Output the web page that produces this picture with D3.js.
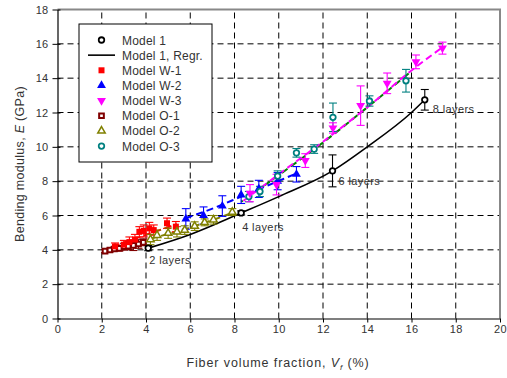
<!DOCTYPE html>
<html><head><meta charset="utf-8">
<script src="https://cdn.jsdelivr.net/npm/d3@7"></script>
<style>body{margin:0;background:#fff}svg{display:block;font-family:"Liberation Sans",Arial,sans-serif}</style>
</head><body><svg id="c" width="507" height="378"></svg>
<script>
// ---- data ----
const xTicks = [0,2,4,6,8,10,12,14,16,18,20];
const yTicks = [0,2,4,6,8,10,12,14,16,18];

const m1X = [4.1, 8.3, 12.43, 16.6];
const m1Y = [4.1, 6.15, 8.6, 12.74];
const m1Err = [0.15, 0.12, 0.93, 0.6];
const m1Labels = ["2 layers", "4 layers", "6 layers", "8 layers"];

const regX = [4.1, 6, 8.3, 10, 12.43, 14, 16, 16.6];
const regY = [4.1, 4.9, 6.15, 7.1, 8.6, 10.0, 12.0, 12.74];

const w1X = [2.6, 3.0, 3.25, 3.5, 3.7, 3.9, 4.15, 4.35, 4.95, 5.35];
const w1Y = [4.2, 4.3, 4.45, 4.6, 5.05, 5.1, 5.25, 5.15, 5.55, 5.35];
const w1Err = [0.2, 0.25, 0.3, 0.3, 0.3, 0.35, 0.35, 0.3, 0.3, 0.3];
const w1FitX = [2.5, 5.4];
const w1FitY = [4.2, 5.5];

const w2X = [5.8, 6.6, 7.45, 8.3, 9.1, 9.95, 10.8];
const w2Y = [5.8, 6.0, 6.55, 7.2, 7.55, 8.0, 8.4];
const w2Err = [0.6, 0.5, 0.6, 0.5, 0.5, 0.5, 0.45];
const w2FitX = [5.8, 7.0, 8.3, 9.5, 10.8];
const w2FitY = [5.85, 6.4, 7.1, 7.75, 8.45];

const w3X = [8.7, 9.9, 11.2, 12.45, 13.7, 14.9, 16.2, 17.4];
const w3Y = [7.3, 7.8, 9.2, 11.1, 12.4, 13.7, 14.95, 15.75];
const w3Err = [0.5, 0.6, 0.4, 0.3, 1.15, 0.6, 0.4, 0.35];
const w3FitX = [8.4, 10, 12, 14, 16, 17.4];
const w3FitY = [6.85, 8.4, 10.3, 12.3, 14.45, 15.8];

const o1X = [2.15, 2.37, 2.57, 2.8, 3.01, 3.2, 3.43, 3.66, 3.88];
const o1Y = [3.93, 3.99, 4.05, 4.09, 4.18, 4.22, 4.26, 4.34, 4.44];
const o1Err = [0.08, 0.1, 0.12, 0.15, 0.2, 0.2, 0.3, 0.25, 0.2];
const o1FitX = [2.1, 3.9];
const o1FitY = [3.9, 4.45];

const o2X = [4.2, 4.5, 5.0, 5.4, 5.75, 6.2, 6.65, 7.05, 7.9];
const o2Y = [4.6, 4.85, 4.97, 5.05, 5.15, 5.38, 5.6, 5.75, 6.2];
const o2Err = [0.3, 0.3, 0.3, 0.3, 0.25, 0.25, 0.2, 0.25, 0.2];
const o2FitX = [4.2, 6.0, 7.9];
const o2FitY = [4.65, 5.3, 6.15];

const o3X = [8.65, 9.15, 9.95, 10.8, 11.6, 12.45, 14.1, 15.75];
const o3Y = [7.1, 7.4, 8.3, 9.65, 9.87, 11.72, 12.67, 13.85];
const o3Err = [0.3, 0.3, 0.3, 0.25, 0.25, 0.83, 0.3, 0.66];
const o3FitX = [8.3, 10, 12, 14, 15.9];
const o3FitY = [6.8, 8.35, 10.25, 12.3, 14.3];

const legendNames = ["Model 1","Model 1, Regr.","Model W-1","Model W-2","Model W-3","Model O-1","Model O-2","Model O-3"];

// ---- scales ----
const svg = d3.select("#c");
const x = d3.scaleLinear().domain([0,20]).range([57.5,500]);
const y = d3.scaleLinear().domain([0,18]).range([318.5,9.5]);
const FONT = "Liberation Sans, Arial, sans-serif";

// grid
const g = svg.append("g");
g.selectAll(".vg").data(xTicks.filter(d=>d>0&&d<20)).join("line")
  .attr("x1",d=>x(d)).attr("x2",d=>x(d)).attr("y1",y(0)).attr("y2",y(18))
  .attr("stroke","#000").attr("stroke-width",1).attr("stroke-dasharray","6,4");
g.selectAll(".hg").data(yTicks.filter(d=>d>0&&d<18)).join("line")
  .attr("x1",x(0)).attr("x2",x(20)).attr("y1",d=>y(d)).attr("y2",d=>y(d))
  .attr("stroke","#000").attr("stroke-width",1).attr("stroke-dasharray","6,4");
svg.append("path").attr("d",`M${x(0)},${y(18)}H${x(20)}V${y(0)}`)
  .attr("fill","none").attr("stroke","#888").attr("stroke-width",2);

// axes
const xa = svg.append("g").attr("transform",`translate(0,${y(0)})`)
  .call(d3.axisBottom(x).tickValues(xTicks).tickSize(4).tickPadding(3).tickSizeOuter(0));
const ya = svg.append("g").attr("transform",`translate(${x(0)},0)`)
  .call(d3.axisLeft(y).tickValues(yTicks).tickSize(5).tickPadding(4).tickSizeOuter(0));
[xa,ya].forEach(a=>{
  a.select(".domain").attr("stroke","#000").attr("stroke-width",1.2);
  a.selectAll(".tick line").attr("stroke","#000");
  a.selectAll("text").attr("font-size",11).attr("fill","#333").attr("font-family",FONT)
   .attr("letter-spacing",0.3);
});
ya.selectAll(".tick line").attr("x2",-5).clone().attr("x2",3);

// axis titles
const xt = svg.append("text").attr("x",278).attr("y",367).attr("text-anchor","middle")
  .attr("font-size",12.5).attr("letter-spacing",0.9).attr("fill","#333");
xt.append("tspan").text("Fiber volume fraction, ");
xt.append("tspan").attr("font-style","italic").text("V");
xt.append("tspan").attr("font-style","italic").attr("font-size",8).attr("dy",3).text("f");
xt.append("tspan").attr("dy",-3).text(" (%)");
const yt = svg.append("text").attr("transform",`translate(24,${y(9)}) rotate(-90)`)
  .attr("text-anchor","middle").attr("font-size",12.5).attr("letter-spacing",0.3).attr("fill","#333");
yt.append("tspan").text("Bending modulus, ");
yt.append("tspan").attr("font-style","italic").text("E");
yt.append("tspan").text(" (GPa)");

// series definitions
const sym = {
  sq: d3.symbol().type(d3.symbolSquare).size(36)(),
  osq: d3.symbol().type(d3.symbolSquare).size(22)(),
  tri: d3.symbol().type(d3.symbolTriangle).size(34)(),
  otri: d3.symbol().type(d3.symbolTriangle).size(24)(),
  circ: d3.symbol().type(d3.symbolCircle).size(24)()
};
const series = [
  {xs:o1X, ys:o1Y, es:o1Err, fx:o1FitX, fy:o1FitY, color:"#800000", shape:"osq", fill:"#fff", sw:2, rot:0, line:"#800000"},
  {xs:w1X, ys:w1Y, es:w1Err, fx:w1FitX, fy:w1FitY, color:"#ff0000", shape:"sq", fill:"#ff0000", sw:0, rot:0, line:"#ff0000"},
  {xs:o2X, ys:o2Y, es:o2Err, fx:o2FitX, fy:o2FitY, color:"#808000", shape:"otri", fill:"#fff", sw:1.5, rot:0, line:"#808000"},
  {xs:w2X, ys:w2Y, es:w2Err, fx:w2FitX, fy:w2FitY, color:"#0000ff", shape:"tri", fill:"#0000ff", sw:0, rot:0, line:"#0000ff"},
  {xs:o3X, ys:o3Y, es:o3Err, fx:o3FitX, fy:o3FitY, color:"#008080", shape:"circ", fill:"#fff", sw:1.8, rot:0, line:"#008000", dashOff:5},
  {xs:w3X, ys:w3Y, es:w3Err, fx:w3FitX, fy:w3FitY, color:"#ff00ff", shape:"tri", fill:"#ff00ff", sw:0, rot:180, line:"#ff00ff"}
];

// trend lines
const fitLine = d3.line().x(d=>x(d[0])).y(d=>y(d[1])).curve(d3.curveMonotoneX);
series.forEach(s=>{
  const pts = s.fx.map((v,i)=>[v,s.fy[i]]);
  svg.append("path").attr("d",fitLine(pts)).attr("fill","none")
    .attr("stroke",s.line).attr("stroke-width",2).attr("stroke-dasharray","7,4")
    .attr("stroke-dashoffset",s.dashOff||0);
});
// regression
const regPts = regX.map((v,i)=>[v,regY[i]]);
svg.append("path").attr("d",fitLine(regPts))
  .attr("fill","none").attr("stroke","#000").attr("stroke-width",1.6);

function errBars(xs,ys,es,color){
  const gg = svg.append("g").attr("stroke",color).attr("stroke-width",1.1);
  xs.forEach((v,i)=>{
    const cx=x(v), t=y(ys[i]+es[i]), b=y(ys[i]-es[i]);
    gg.append("line").attr("x1",cx).attr("x2",cx).attr("y1",t).attr("y2",b);
    gg.append("line").attr("x1",cx-4).attr("x2",cx+4).attr("y1",t).attr("y2",t);
    gg.append("line").attr("x1",cx-4).attr("x2",cx+4).attr("y1",b).attr("y2",b);
  });
}
series.forEach(s=>errBars(s.xs,s.ys,s.es,s.color));
errBars(m1X,m1Y,m1Err,"#000");

function marker(sel, s){
  sel.attr("d",sym[s.shape]).attr("fill",s.fill)
    .attr("stroke",s.sw?s.color:"none").attr("stroke-width",s.sw);
}
series.forEach(s=>{
  s.xs.forEach((v,i)=>{
    svg.append("path").call(marker,s)
      .attr("transform",`translate(${x(v)},${y(s.ys[i])}) rotate(${s.rot})`);
  });
});
const m1s = {shape:"circ", fill:"#fff", color:"#000", sw:1.8};
m1X.forEach((v,i)=>{
  svg.append("path").call(marker,m1s).attr("transform",`translate(${x(v)},${y(m1Y[i])})`);
});
// layer labels
const lblOff = [[1,9],[1,11],[6,7],[8,6]];
m1X.forEach((v,i)=>{
  svg.append("text").attr("x",x(v)+lblOff[i][0]).attr("y",y(m1Y[i])+lblOff[i][1]+7)
    .attr("font-size",11).attr("letter-spacing",0.4).attr("fill","#333").text(m1Labels[i]);
});

// legend
const lg = svg.append("g");
lg.append("rect").attr("x",79).attr("y",24).attr("width",133).attr("height",138)
  .attr("fill","#fff").attr("stroke","#000").attr("stroke-width",1);
const legSyms = [m1s, null, series[1], series[3], series[5], series[0], series[2], series[4]];
legendNames.forEach((n,i)=>{
  const yy = 40 + i*15.15;
  if(i===1){
    lg.append("line").attr("x1",88).attr("x2",115).attr("y1",yy).attr("y2",yy)
      .attr("stroke","#000").attr("stroke-width",1.6);
  } else {
    lg.append("path").call(marker,legSyms[i])
      .attr("transform",`translate(101.5,${yy}) rotate(${legSyms[i].rot||0})`);
  }
  lg.append("text").attr("x",122).attr("y",yy+4.5).attr("font-size",12).attr("letter-spacing",0.2)
    .attr("fill","#333").text(n);
});
</script></body></html>
